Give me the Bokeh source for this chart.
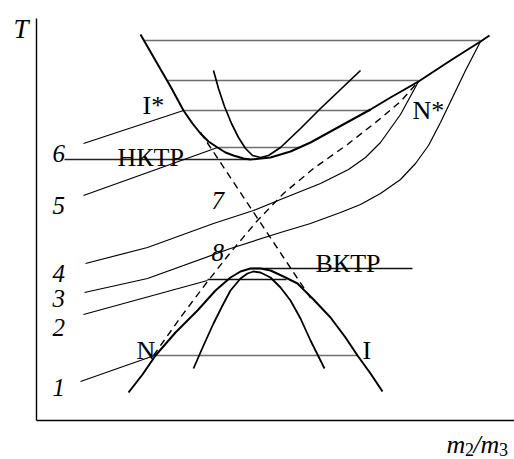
from bokeh.plotting import figure
from bokeh.models import Range1d
from bokeh.core.properties import value
from bokeh.embed import file_html
from bokeh.resources import INLINE

# Schematic T vs m2/m3 diagram: two liquid-liquid immiscibility regions
# (lower one closes at the upper critical point, upper one at the lower critical point)
# and the trajectories of systems 1-6 through them.  Units are arbitrary.

# upper binodal (I* branch -> lower critical point -> N* branch)
upper_bin_x = [104, 119, 134, 147, 156, 164, 172, 181, 189, 197, 207, 214, 234, 254, 274, 294, 314, 334, 354, 382, 414, 444, 453]
upper_bin_t = [386, 360, 334, 310, 297, 287, 279, 273, 268, 265, 262, 261, 263, 269, 278, 289, 300, 311, 323, 339, 360, 379, 385]

# inner curve of the upper region
upper_in_x = [177, 182, 188, 195, 202, 209, 216, 224, 232, 244, 264, 284, 304, 324]
upper_in_t = [350, 332, 314, 297, 283, 272, 265, 263, 265, 273, 292, 312, 331, 350]

# lower binodal (N branch -> upper critical point -> I branch)
lower_bin_x = [92, 106, 119, 139, 161, 179, 194, 204, 214, 224, 234, 247, 261, 277, 294, 309, 321, 334, 346]
lower_bin_t = [28, 46, 65, 88, 110, 130, 143, 149, 152, 152, 150, 144, 137, 121, 103, 83, 65, 47, 29]

# inner curve of the lower region
lower_in_x = [157, 167, 177, 186, 194, 204, 211, 217, 224, 234, 244, 254, 264, 274, 288]
lower_in_t = [52, 75, 97, 115, 130, 142, 147, 149, 148, 143, 133, 120, 102, 80, 52]

# system paths 1-6
path1_x = [44, 118]
path1_t = [39, 65]
path2_x = [47, 171]
path2_t = [106, 140]
path3_x = [48, 111, 194, 244, 274, 304, 324, 344, 364, 379, 392, 404, 416, 429, 444]
path3_t = [128, 142, 172, 188, 197, 208, 216, 227, 241, 257, 275, 298, 323, 350, 379]
path4_x = [49, 111, 177, 217, 244, 264, 284, 312, 329, 344, 364, 382]
path4_t = [157, 173, 197, 210, 221, 229, 237, 251, 263, 278, 306, 339]
path5_x = [47, 181]
path5_t = [225, 273]
path6_x = [47, 147]
path6_t = [277, 310]

# dashed lines 7 (I* -> I) and 8 (N -> N*)
dash7_x = [164, 277]
dash7_t = [288, 118]
dash8_x = [117, 144, 171, 194, 221, 247, 277, 311, 344, 364, 382]
dash8_t = [65, 103, 139, 168, 200, 227, 252, 276, 302, 319, 339]

# horizontal tie lines: level, left end, right end
tie_t = [380, 340, 310, 273, 65]
tie_x0 = [107, 130, 147, 181, 118]
tie_x1 = [444, 382, 334, 263, 321]

# critical-point levels and the short tie line under the upper critical point
lcst_t, lcst_x0, lcst_x1 = 261, 28, 214
ucst_t, ucst_x0, ucst_x1 = 152, 214, 376
low_tie_t, low_tie_x0, low_tie_x1 = 141, 171, 250

# curve numbers on the left
num_text = ["6", "5", "4", "3", "2", "1"]
num_t = [267, 215, 147, 122, 93, 33]

serif = value("Liberation Serif")

p = figure(width=514, height=459, output_backend="svg", toolbar_location=None,
           x_range=Range1d(-36, 478), y_range=Range1d(-39, 420),
           x_axis_location=None, y_axis_location=None, min_border=0)
p.outline_line_color = None
p.grid.visible = False
p.background_fill_color = "white"
p.border_fill_color = "white"

# axes drawn as plain lines from the origin
p.line([0, 0], [0, 402], line_color="black", line_width=1.4)
p.line([0, 478], [0, 0], line_color="black", line_width=1.4)

tie_color = "#6e6e6e"
p.segment(x0=tie_x0, y0=tie_t, x1=tie_x1, y1=tie_t, line_color=tie_color, line_width=1.7)
p.line([lcst_x0, lcst_x1], [lcst_t, lcst_t], line_color="#222222", line_width=1.3)
p.line([ucst_x0, ucst_x1], [ucst_t, ucst_t], line_color="#111111", line_width=1.3)
p.line([low_tie_x0, low_tie_x1], [low_tie_t, low_tie_t], line_color="#111111", line_width=1.3)

thin = dict(line_color="black", line_width=1.2, line_join="round")
for xs, ts in [(path1_x, path1_t), (path2_x, path2_t), (path3_x, path3_t),
               (path4_x, path4_t), (path5_x, path5_t), (path6_x, path6_t)]:
    p.line(xs, ts, **thin)

dashed = dict(line_color="black", line_width=1.4, line_dash="7 5")
p.line(dash7_x, dash7_t, **dashed)
p.line(dash8_x, dash8_t, **dashed)

thick = dict(line_color="black", line_width=2.0, line_join="round")
p.line(upper_bin_x, upper_bin_t, **thick)
p.line(upper_in_x, upper_in_t, line_color="black", line_width=1.7, line_join="round")
p.line(lower_bin_x, lower_bin_t, **thick)
p.line(lower_in_x, lower_in_t, line_color="black", line_width=1.8, line_join="round")

# labels
p.text(x=[16] * len(num_t), y=num_t, text=num_text, text_font=serif,
       text_font_style="italic", text_font_size="25px", text_baseline="alphabetic")
p.text(x=[175, 175], y=[220, 168], text=["7", "8"], text_font=serif,
       text_font_style="italic", text_font_size="25px", text_baseline="alphabetic")

roman = dict(text_font=serif, text_font_size="26px", text_baseline="alphabetic", text_color="black")
p.text(x=[106, 376, 100, 326], y=[315, 310, 70, 70], text=["I*", "N*", "N", "I"], **roman)
p.text(x=[81, 279], y=[263, 157], text=["НКТР", "ВКТР"], **roman)

p.text(x=[-23], y=[392], text=["T"], text_font=serif, text_font_style="italic",
       text_font_size="27px", text_baseline="alphabetic")
p.text(x=[410, 444], y=[-24, -24], text=["m", "m"], text_font=serif, text_font_style="italic",
       text_font_size="26px", text_baseline="alphabetic")
p.text(x=[437], y=[-24], text=["/"], text_font=serif, text_font_style="italic",
       text_font_size="26px", text_baseline="alphabetic")
p.text(x=[428.5, 462.5], y=[-29, -29], text=["2", "3"], text_font=serif,
       text_font_size="18px", text_baseline="alphabetic")

open("out.html", "w").write(file_html(p, INLINE))
